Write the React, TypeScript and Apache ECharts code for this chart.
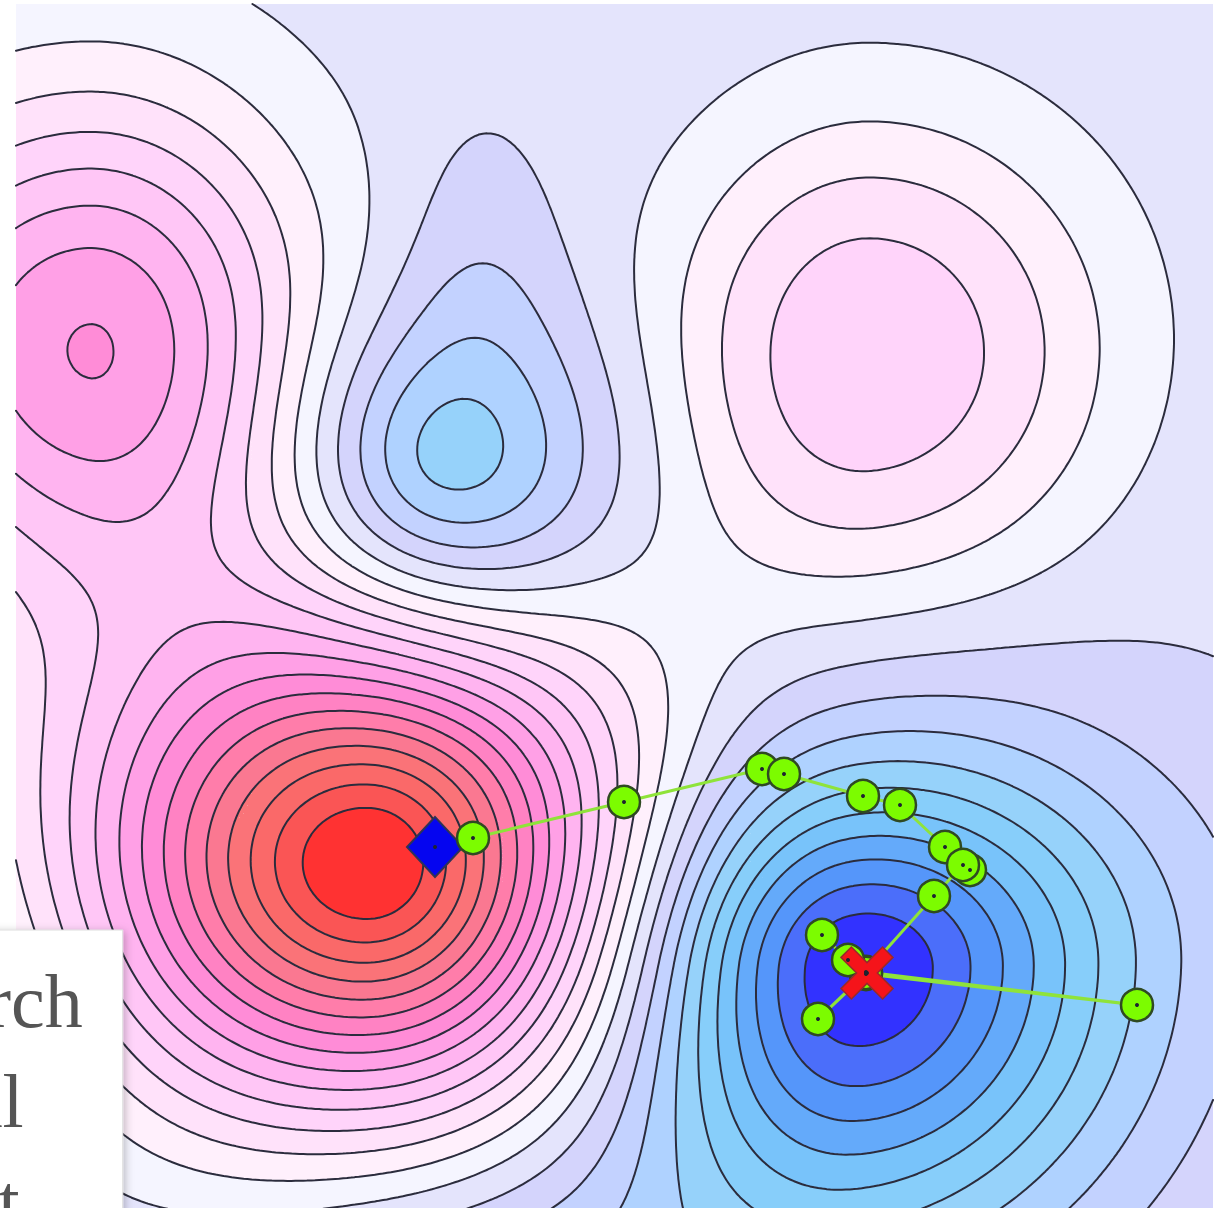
import React, { useEffect, useRef } from "react";
import * as echarts from "echarts";

// Plot domain in data units (the axes are hidden)
const X_SPAN = 1197;
const Y_SPAN = 1257;

// Objective surface: a base level plus a handful of smooth bumps
const BASE_LEVEL = -0.5;
const BUMP_X = [355, 832, 74, 424, 464, 854, -150, 450, 434, 1250];
const BUMP_Y = [861, 962, 335, 455, 270, 351, 1010, 1400, 556, 750];
const BUMP_AMP = [16.2, -10.9, 7.35, -4.2, -1.0, 4.2, -2.5, -4, -2, -0.3];
const BUMP_SX_LEFT = [188, 150, 171, 100, 60, 150, 180, 220, 120, 250];
const BUMP_SX_RIGHT = [165, 180, 150, 110, 60, 175, 180, 220, 120, 250];
const BUMP_SY_UP = [165, 140, 171, 100, 127, 175, 180, 220, 120, 250];
const BUMP_SY_DOWN = [165, 180, 171, 100, 90, 175, 180, 220, 120, 250];
const BUMP_POWER = [1.7, 1.84, 2.09, 1.8, 2, 2.5, 2, 2, 2, 2];

// Contour lines at every integer level from LEVEL_LO to LEVEL_HI
const LEVEL_LO = -10;
const LEVEL_HI = 14;
// Band fills, lowest band first (below LEVEL_LO ... above LEVEL_HI)
const BAND_COLORS = [
  "#3232ff", "#4b6efa", "#5596fa", "#64aafa", "#78c3fa", "#87cefa", "#96d2fa",
  "#afd2ff", "#c3d2ff", "#d4d4fc", "#e4e4fc",
  "#f5f5ff", "#fff0fc", "#ffe2fa", "#ffd4fa", "#ffc6f6", "#ffb4f0", "#ffa0e6",
  "#ff8cd7", "#ff82c3", "#ff7daa", "#fa7891", "#fa7378", "#fa6969", "#fa5555", "#ff3232",
];

// Optimisation run
const START = [419, 843];
const GOAL = [851, 969];
const SEARCH_X = [457, 608, 746, 768, 847, 884, 929, 954, 947, 918, 850, 1121, 850, 802, 850, 832, 806];
const SEARCH_Y = [834, 798, 765, 770, 792, 801, 843, 866, 861, 892, 968, 1001, 970, 1015, 969, 956, 931];

const GRID_NX = 300;
const GRID_NY = 315;

function surface(x: number, y: number): number {
  let v = BASE_LEVEL;
  for (let k = 0; k < BUMP_X.length; k++) {
    const dx = x - BUMP_X[k];
    const dy = y - BUMP_Y[k];
    const sx = dx < 0 ? BUMP_SX_LEFT[k] : BUMP_SX_RIGHT[k];
    const sy = dy < 0 ? BUMP_SY_UP[k] : BUMP_SY_DOWN[k];
    const r2 = (dx / sx) * (dx / sx) + (dy / sy) * (dy / sy);
    v += BUMP_AMP[k] * Math.exp(-0.5 * Math.pow(r2, BUMP_POWER[k] / 2));
  }
  return v;
}

type Pt = number[];

function clipPoly(pts: Pt[], level: number, keepAbove: boolean): Pt[] {
  const out: Pt[] = [];
  const n = pts.length;
  for (let k = 0; k < n; k++) {
    const P = pts[k];
    const Q = pts[(k + 1) % n];
    const pin = keepAbove ? P[2] >= level : P[2] < level;
    const qin = keepAbove ? Q[2] >= level : Q[2] < level;
    if (pin) out.push(P);
    if (pin !== qin) {
      const t = (level - P[2]) / (Q[2] - P[2]);
      out.push([P[0] + t * (Q[0] - P[0]), P[1] + t * (Q[1] - P[1]), level]);
    }
  }
  return out;
}

function buildContours() {
  const nb = BAND_COLORS.length;
  const cw = X_SPAN / GRID_NX;
  const ch = Y_SPAN / GRID_NY;
  const W = GRID_NX + 1;
  const vals = new Float64Array(W * (GRID_NY + 1));
  for (let j = 0; j <= GRID_NY; j++) {
    for (let i = 0; i <= GRID_NX; i++) vals[j * W + i] = surface(i * cw, j * ch);
  }
  const bandOf = (v: number) => Math.min(nb - 1, Math.max(0, Math.floor(v) - LEVEL_LO + 1));
  const bandLo = (b: number) => (b === 0 ? -Infinity : LEVEL_LO + b - 1);
  const bandHi = (b: number) => (b === nb - 1 ? Infinity : LEVEL_LO + b);

  const rects: number[][] = BAND_COLORS.map(() => []);
  const polys: number[][][] = BAND_COLORS.map(() => []);

  for (let j = 0; j < GRID_NY; j++) {
    const y0 = j * ch;
    const y1 = (j + 1) * ch;
    let runBand = -1;
    let runStart = 0;
    const flush = (iEnd: number) => {
      if (runBand >= 0) rects[runBand].push(runStart * cw, y0, iEnd * cw, y1);
      runBand = -1;
    };
    for (let i = 0; i < GRID_NX; i++) {
      const a = vals[j * W + i];
      const b = vals[j * W + i + 1];
      const c = vals[(j + 1) * W + i + 1];
      const d = vals[(j + 1) * W + i];
      const b0 = bandOf(Math.min(a, b, c, d));
      const b1 = bandOf(Math.max(a, b, c, d));
      if (b0 === b1) {
        if (runBand !== b0) {
          flush(i);
          runBand = b0;
          runStart = i;
        }
        continue;
      }
      flush(i);
      const x0 = i * cw;
      const x1 = (i + 1) * cw;
      const quad: Pt[] = [
        [x0, y0, a],
        [x1, y0, b],
        [x1, y1, c],
        [x0, y1, d],
      ];
      for (let t = b0; t <= b1; t++) {
        let p = quad;
        const lo = bandLo(t);
        const hi = bandHi(t);
        if (lo > -Infinity) p = clipPoly(p, lo, true);
        if (p.length >= 3 && hi < Infinity) p = clipPoly(p, hi, false);
        if (p.length >= 3) {
          const flat: number[] = [];
          for (const q of p) flat.push(q[0], q[1]);
          polys[t].push(flat);
        }
      }
    }
    flush(GRID_NX);
  }

  // Isolines by marching squares
  const lines: number[][] = [];
  for (let L = LEVEL_LO; L <= LEVEL_HI; L++) {
    const segs: number[] = [];
    for (let j = 0; j < GRID_NY; j++) {
      for (let i = 0; i < GRID_NX; i++) {
        const a = vals[j * W + i];
        const b = vals[j * W + i + 1];
        const c = vals[(j + 1) * W + i + 1];
        const d = vals[(j + 1) * W + i];
        const sa = a >= L, sb = b >= L, sc = c >= L, sd = d >= L;
        if (sa === sb && sb === sc && sc === sd) continue;
        const x0 = i * cw, x1 = (i + 1) * cw, y0 = j * ch, y1 = (j + 1) * ch;
        const e: (number[] | null)[] = [null, null, null, null];
        if (sa !== sb) { const t = (L - a) / (b - a); e[0] = [x0 + t * cw, y0]; }
        if (sb !== sc) { const t = (L - b) / (c - b); e[1] = [x1, y0 + t * ch]; }
        if (sc !== sd) { const t = (L - c) / (d - c); e[2] = [x1 - t * cw, y1]; }
        if (sd !== sa) { const t = (L - d) / (a - d); e[3] = [x0, y1 - t * ch]; }
        const found = e.filter((p) => p !== null) as number[][];
        if (found.length === 2) {
          segs.push(found[0][0], found[0][1], found[1][0], found[1][1]);
        } else if (found.length === 4) {
          const centre = (a + b + c + d) / 4;
          const pairs = (centre >= L) === sa ? [[0, 1], [2, 3]] : [[3, 0], [1, 2]];
          for (const [p, q] of pairs) {
            segs.push(e[p]![0], e[p]![1], e[q]![0], e[q]![1]);
          }
        }
      }
    }
    lines.push(segs);
  }
  return { rects, polys, lines };
}

const CROSS_SYMBOL =
  "path://M0,20L20,0L50,30L80,0L100,20L70,50L100,80L80,100L50,70L20,100L0,80L30,50Z";

export default function App() {
  const ref = useRef<HTMLDivElement>(null);

  useEffect(() => {
    const el = ref.current;
    if (!el) return;
    const chart = echarts.init(el, null, { renderer: "svg" });
    const { rects, polys, lines } = buildContours();

    const mapper = (api: any) => {
      const o = api.coord([0, 0]);
      const e = api.coord([X_SPAN, Y_SPAN]);
      const kx = (e[0] - o[0]) / X_SPAN;
      const ky = (e[1] - o[1]) / Y_SPAN;
      return {
        X: (x: number) => (o[0] + x * kx).toFixed(1),
        Y: (y: number) => (o[1] + y * ky).toFixed(1),
      };
    };

    const searchData = SEARCH_X.map((x, i) => [x, SEARCH_Y[i]]);
    const allMarkers = [START, GOAL, ...searchData];

    chart.setOption({
      animation: false,
      grid: { left: 16, top: 4, width: 1197, height: 1257 },
      xAxis: { type: "value", min: 0, max: X_SPAN, show: false },
      yAxis: { type: "value", min: 0, max: Y_SPAN, inverse: true, show: false },
      legend: {
        data: ["Search", "Goal", "Start"],
        orient: "vertical",
        left: -210,
        top: 930,
        itemWidth: 60,
        itemHeight: 40,
        itemGap: 0,
        padding: [21, 40, 40, 20],
        backgroundColor: "#ffffff",
        borderColor: "#dddddd",
        borderWidth: 1,
        shadowBlur: 8,
        shadowColor: "rgba(0,0,0,0.25)",
        shadowOffsetX: 2,
        shadowOffsetY: 2,
        selectedMode: false,
        textStyle: {
          fontFamily: "Liberation Serif",
          fontSize: 76,
          lineHeight: 100,
          color: "#555555",
        },
      },
      series: [
        {
          type: "custom",
          name: "bands",
          silent: true,
          z: 1,
          data: BAND_COLORS.map((_, i) => [i, 0]),
          renderItem: (params: any, api: any) => {
            const b = params.dataIndex;
            const { X, Y } = mapper(api);
            const parts: string[] = [];
            const r = rects[b];
            for (let k = 0; k < r.length; k += 4) {
              const xa = X(r[k]), ya = Y(r[k + 1]), xb = X(r[k + 2]), yb = Y(r[k + 3]);
              parts.push(`M${xa} ${ya}L${xb} ${ya}L${xb} ${yb}L${xa} ${yb}Z`);
            }
            for (const p of polys[b]) {
              let s = `M${X(p[0])} ${Y(p[1])}`;
              for (let k = 2; k < p.length; k += 2) s += `L${X(p[k])} ${Y(p[k + 1])}`;
              parts.push(s + "Z");
            }
            if (!parts.length) return null;
            return {
              type: "path",
              shape: { pathData: parts.join("") },
              style: { fill: BAND_COLORS[b], stroke: null },
            };
          },
        },
        {
          type: "custom",
          name: "isolines",
          silent: true,
          z: 2,
          data: lines.map((_, i) => [i, 0]),
          renderItem: (params: any, api: any) => {
            const segs = lines[params.dataIndex];
            if (!segs.length) return null;
            const { X, Y } = mapper(api);
            const parts: string[] = [];
            for (let k = 0; k < segs.length; k += 4) {
              parts.push(`M${X(segs[k])} ${Y(segs[k + 1])}L${X(segs[k + 2])} ${Y(segs[k + 3])}`);
            }
            return {
              type: "path",
              shape: { pathData: parts.join("") },
              style: { fill: null, stroke: "#2b2c3d", lineWidth: 2, lineCap: "round" },
            };
          },
        },
        {
          type: "scatter",
          name: "Start",
          z: 3,
          data: [START],
          symbol: "diamond",
          symbolSize: [56, 60],
          itemStyle: { color: "#0505f0", borderColor: "#2e3358", borderWidth: 2, opacity: 1 },
        },
        {
          type: "line",
          name: "Search",
          z: 4,
          data: searchData,
          symbol: "circle",
          symbolSize: 32,
          showAllSymbol: true,
          lineStyle: { color: "#8fe33a", width: 3 },
          itemStyle: { color: "#7cfc00", borderColor: "#2f4a22", borderWidth: 2.5, opacity: 1 },
        },
        {
          type: "scatter",
          name: "Goal",
          z: 5,
          data: [GOAL],
          symbol: CROSS_SYMBOL,
          symbolSize: 52,
          itemStyle: { color: "#f5141a", borderColor: "#9a2a2a", borderWidth: 1.5, opacity: 1 },
        },
        {
          type: "scatter",
          name: "centres",
          z: 6,
          silent: true,
          data: allMarkers,
          symbol: "circle",
          symbolSize: 4,
          itemStyle: { color: "#1f2430", opacity: 1 },
        },
      ],
    });

    return () => chart.dispose();
  }, []);

  return (
    <div
      style={{
        position: "fixed",
        left: 0,
        top: 0,
        width: 1225,
        height: 1208,
        overflow: "hidden",
        background: "#ffffff",
      }}
    >
      <div ref={ref} style={{ width: 1225, height: 1300 }} />
    </div>
  );
}
